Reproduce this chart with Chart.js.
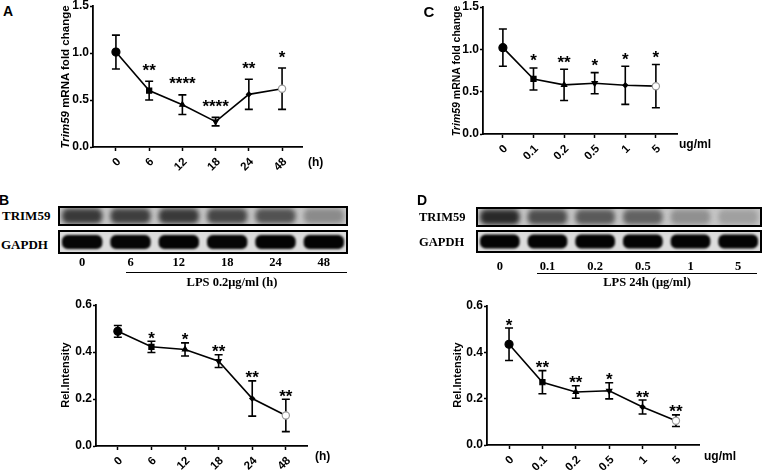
<!DOCTYPE html>
<html>
<head>
<meta charset="utf-8">
<script src="https://cdn.jsdelivr.net/npm/chart.js@4.4.0/dist/chart.umd.min.js"></script>
<style>
  body { margin:0; width:768px; height:470px; background:#fff; position:relative; overflow:hidden;
         font-family:"Liberation Sans", Arial, sans-serif; }
  canvas { position:absolute; }
  .t { position:absolute; font-weight:bold; white-space:nowrap; color:#000; line-height:1; }
  .c { transform:translate(-50%,-50%); }
  .v { transform:translate(-50%,-50%) rotate(-90deg); }
  .m { transform:translateY(-50%); }
  .serif { font-family:"Liberation Serif", "Times New Roman", serif; }
  .rule { position:absolute; height:0; border-top:1.5px solid #000; }
</style>
</head>
<body>
<canvas id="chartA" width="269" height="191" style="left:43px;top:-4px"></canvas>
<canvas id="chartC" width="254" height="177" style="left:433px;top:-3px"></canvas>
<canvas id="chartB" width="271" height="191" style="left:46px;top:295px"></canvas>
<canvas id="chartD" width="272" height="189" style="left:437px;top:296px"></canvas>
<canvas id="blotB" width="290" height="70" style="left:58px;top:206px"></canvas>
<canvas id="blotD" width="286" height="72" style="left:476px;top:207px"></canvas>

<div class="t c" style="left:8px;top:11px;font-size:14px">A</div>
<div class="t c" style="left:429px;top:11px;font-size:15px">C</div>
<div class="t c" style="left:4px;top:200px;font-size:14px">B</div>
<div class="t c" style="left:422px;top:200px;font-size:14px">D</div>

<div class="t v" style="left:66px;top:77px;font-size:11.5px"><i>Trim59</i> mRNA fold change</div>
<div class="t v" style="left:456px;top:71px;font-size:10.5px"><i>Trim59</i> mRNA fold change</div>
<div class="t v" style="left:65px;top:375px;font-size:11px">Rel.Intensity</div>
<div class="t v" style="left:457px;top:375px;font-size:11px">Rel.Intensity</div>

<div class="t m" style="left:308px;top:162px;font-size:12px">(h)</div>
<div class="t m" style="left:315px;top:456px;font-size:12px">(h)</div>
<div class="t m" style="left:679px;top:144px;font-size:12px">ug/ml</div>
<div class="t m" style="left:704px;top:456px;font-size:12px">ug/ml</div>

<div class="t m serif" style="left:2px;top:215px;font-size:13px">TRIM59</div>
<div class="t m serif" style="left:1px;top:244px;font-size:13px">GAPDH</div>
<div class="t m serif" style="left:419px;top:217px;font-size:12.5px">TRIM59</div>
<div class="t m serif" style="left:419px;top:242px;font-size:12.5px">GAPDH</div>

<div class="rule" style="left:126px;top:272px;width:221px"></div>
<div class="t c serif" style="left:232px;top:282px;font-size:12.5px">LPS 0.2μg/ml (h)</div>
<div class="rule" style="left:537px;top:273px;width:220px"></div>
<div class="t c serif" style="left:647px;top:282px;font-size:12.5px">LPS 24h (μg/ml)</div>

<script>
// time course (h) and LPS dose (ug/ml)
const hourLabels = ["0", "6", "12", "18", "24", "48"];
const doseLabels = ["0", "0.1", "0.2", "0.5", "1", "5"];

// A: Trim59 mRNA fold change vs time
const mrnaTime = [1.01, 0.60, 0.45, 0.27, 0.56, 0.62];
const mrnaTimeErr = [0.18, 0.10, 0.105, 0.045, 0.16, 0.22];
const mrnaTimeSig = ["", "**", "****", "****", "**", "*"];

// C: Trim59 mRNA fold change vs dose
const mrnaDose = [1.02, 0.65, 0.58, 0.60, 0.575, 0.565];
const mrnaDoseErr = [0.22, 0.13, 0.185, 0.125, 0.225, 0.255];
const mrnaDoseSig = ["", "*", "**", "*", "*", "*"];

// B: TRIM59 protein rel. intensity vs time
const protTime = [0.488, 0.422, 0.411, 0.361, 0.202, 0.13];
const protTimeErr = [0.025, 0.024, 0.028, 0.027, 0.075, 0.069];
const protTimeSig = ["", "*", "*", "**", "**", "**"];

// D: TRIM59 protein rel. intensity vs dose
const protDose = [0.435, 0.271, 0.229, 0.234, 0.164, 0.105];
const protDoseErr = [0.07, 0.05, 0.027, 0.035, 0.03, 0.025];
const protDoseSig = ["*", "**", "**", "*", "**", "**"];

// blot band darkness (0 = none, 1 = black)
const blotTimeTrim = [0.72, 0.70, 0.72, 0.66, 0.60, 0.32];
const blotTimeGapdh = [0.97, 0.97, 0.98, 0.97, 0.98, 0.98];
const blotDoseTrim = [0.80, 0.62, 0.56, 0.52, 0.30, 0.22];
const blotDoseGapdh = [0.98, 0.98, 0.98, 0.98, 0.98, 0.98];

const SANS = "'Liberation Sans', Arial, sans-serif";
const SERIF = "'Liberation Serif', 'Times New Roman', serif";

// GraphPad style group symbols
const markStyle = ["circle", "rect", "triangle", "triangle", "rectRot", "circle"];
const markRot = [0, 0, 0, 180, 0, 0];
const markSize = [4, 3.6, 3, 3, 2.4, 3.6];
const markFill = ["#000", "#000", "#000", "#000", "#000", "#fff"];
const markEdge = ["#000", "#000", "#000", "#000", "#000", "#9a9a9a"];

const errorBars = {
  id: "errorBars",
  beforeDatasetsDraw(chart) {
    const ds = chart.data.datasets[0];
    const { x, y } = chart.scales;
    const ctx = chart.ctx;
    ctx.save();
    ctx.strokeStyle = "#000";
    ctx.lineWidth = 1.6;
    ds.data.forEach((p, i) => {
      const px = x.getPixelForValue(p.x);
      const top = y.getPixelForValue(p.y + ds.errors[i]);
      const bot = y.getPixelForValue(p.y - ds.errors[i]);
      ctx.beginPath();
      ctx.moveTo(px, top); ctx.lineTo(px, bot);
      ctx.moveTo(px - 4, top); ctx.lineTo(px + 4, top);
      ctx.moveTo(px - 4, bot); ctx.lineTo(px + 4, bot);
      ctx.stroke();
    });
    ctx.restore();
  },
  afterDatasetsDraw(chart) {
    const ds = chart.data.datasets[0];
    const { x, y } = chart.scales;
    const ctx = chart.ctx;
    ctx.save();
    ctx.fillStyle = "#000";
    ctx.font = "bold 17px " + SANS;
    ctx.textAlign = "center";
    ctx.textBaseline = "alphabetic";
    ds.data.forEach((p, i) => {
      if (!ds.stars[i]) return;
      const px = x.getPixelForValue(p.x);
      const cy = y.getPixelForValue(p.y + ds.errors[i]) - ds.starGap;
      ctx.fillText(ds.stars[i], px, cy + 17 * 0.56);
    });
    ctx.restore();
  }
};

function trendChart(id, labels, means, errs, stars, opts) {
  return new Chart(document.getElementById(id), {
    type: "line",
    data: {
      datasets: [{
        data: means.map((m, i) => ({ x: i, y: m })),
        errors: errs,
        stars: stars,
        starGap: opts.starGap,
        borderColor: "#000",
        borderWidth: 1.6,
        tension: 0,
        pointStyle: markStyle,
        rotation: markRot,
        pointRadius: markSize,
        pointBackgroundColor: markFill,
        pointBorderColor: markEdge,
        pointBorderWidth: 1.2
      }]
    },
    options: {
      responsive: false,
      animation: false,
      layout: { padding: { top: 10, right: 10, left: 0, bottom: 0 } },
      plugins: { legend: { display: false }, tooltip: { enabled: false } },
      scales: {
        x: {
          type: "linear",
          min: opts.xMin,
          max: opts.xMax,
          afterBuildTicks: s => { s.ticks = labels.map((_, i) => ({ value: i })); },
          afterFit: s => { s.height = 40; },
          grid: { drawOnChartArea: false, color: "#000", tickLength: 4, tickWidth: 1.5 },
          border: { color: "#000", width: 1.8 },
          ticks: {
            autoSkip: false, minRotation: 45, maxRotation: 45, padding: 4, labelOffset: 3,
            color: "#000", font: { family: SANS, size: 11.5, weight: "bold" },
            callback: v => labels[v]
          }
        },
        y: {
          min: 0,
          max: opts.yMax,
          afterFit: s => { s.width = 50; },
          grid: { drawOnChartArea: false, color: "#000", tickLength: 3, tickWidth: 1.5 },
          border: { color: "#000", width: 1.8 },
          ticks: {
            stepSize: opts.yStep, padding: 1,
            color: "#000", font: { family: SANS, size: 12, weight: "bold" },
            callback: v => v.toFixed(1)
          }
        }
      }
    },
    plugins: [errorBars]
  });
}

trendChart("chartA", hourLabels, mrnaTime, mrnaTimeErr, mrnaTimeSig,
  { xMin: -0.69, xMax: 5.6, yMax: 1.5, yStep: 0.5, starGap: 15 });
trendChart("chartC", doseLabels, mrnaDose, mrnaDoseErr, mrnaDoseSig,
  { xMin: -0.65, xMax: 5.69, yMax: 1.5, yStep: 0.5, starGap: 11 });
trendChart("chartB", hourLabels, protTime, protTimeErr, protTimeSig,
  { xMin: -0.65, xMax: 5.63, yMax: 0.6, yStep: 0.2, starGap: 7 });
trendChart("chartD", doseLabels, protDose, protDoseErr, protDoseSig,
  { xMin: -0.66, xMax: 5.69, yMax: 0.6, yStep: 0.2, starGap: 7 });

// western blot strips, lanes placed by the category scale
function blotChart(id, labels, trim, gapdh, geo) {
  const blot = {
    id: "blot",
    beforeDatasetsDraw(chart) {
      const { ctx, chartArea: a, scales: { x } } = chart;
      const laneW = x.getPixelForValue(1) - x.getPixelForValue(0);
      const rows = [
        { top: a.top, h: geo.trimH, bg: "#c6c6c6", bandH: geo.trimH - 5, blur: 2.5, vals: chart.data.datasets[0].data },
        { top: a.top + geo.trimH + geo.gap, h: a.bottom - a.top - geo.trimH - geo.gap, bg: "#dcdcdc", bandH: 14, blur: 1.2, vals: chart.data.datasets[1].data }
      ];
      rows.forEach(r => {
        ctx.save();
        ctx.beginPath();
        ctx.rect(a.left, r.top, a.right - a.left, r.h);
        ctx.clip();
        ctx.fillStyle = r.bg;
        ctx.fillRect(a.left, r.top, a.right - a.left, r.h);
        ctx.filter = "blur(" + r.blur + "px)";
        r.vals.forEach((d, i) => {
          const cx = x.getPixelForValue(i);
          const g = Math.round(205 - 205 * d);
          ctx.fillStyle = "rgb(" + g + "," + g + "," + g + ")";
          ctx.beginPath();
          ctx.roundRect(cx - laneW / 2 + 4, r.top + (r.h - r.bandH) / 2, laneW - 8, r.bandH, r.bandH / 2.5);
          ctx.fill();
        });
        ctx.restore();
        ctx.save();
        ctx.strokeStyle = "#000";
        ctx.lineWidth = 2;
        ctx.strokeRect(a.left + 1, r.top + 1, a.right - a.left - 2, r.h - 2);
        ctx.restore();
      });
    }
  };
  return new Chart(document.getElementById(id), {
    type: "line",
    data: {
      labels: labels,
      datasets: [
        { data: trim, showLine: false, pointRadius: 0 },
        { data: gapdh, showLine: false, pointRadius: 0 }
      ]
    },
    options: {
      responsive: false,
      animation: false,
      layout: { padding: 0 },
      plugins: { legend: { display: false }, tooltip: { enabled: false } },
      scales: {
        x: {
          offset: true,
          afterFit: s => { s.height = geo.axisH; },
          grid: { display: false, drawTicks: false },
          border: { display: false },
          ticks: { padding: geo.labelPad, color: "#000", font: { family: SERIF, size: 12.5, weight: "bold" } }
        },
        y: { display: false, min: 0, max: 1 }
      }
    },
    plugins: [blot]
  });
}

blotChart("blotB", hourLabels, blotTimeTrim, blotTimeGapdh, { trimH: 20, gap: 4, axisH: 22, labelPad: 1 });
blotChart("blotD", doseLabels, blotDoseTrim, blotDoseGapdh, { trimH: 20, gap: 3, axisH: 26, labelPad: 6 });
</script>
</body>
</html>
